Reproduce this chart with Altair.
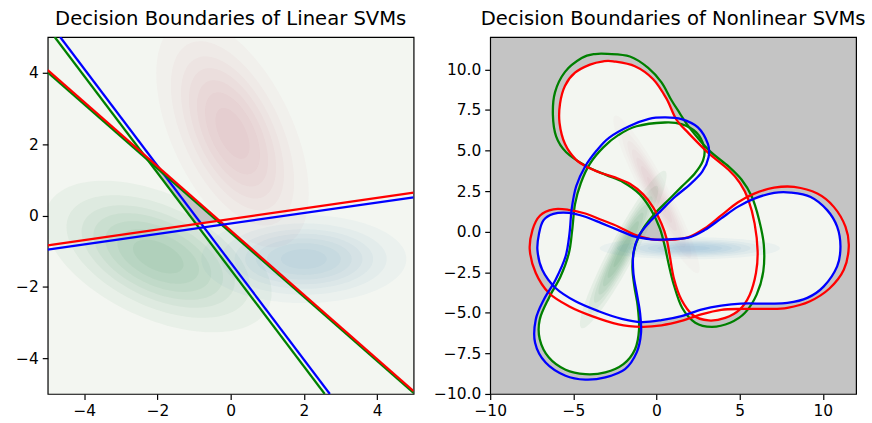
import numpy as np
import pandas as pd
import altair as alt

FONT = "DejaVu Sans"
BG_LIGHT = "#f3f6f1"
BG_GRAY = "#c4c4c4"
LINE_COLORS = {"red": "#ff0000", "green": "#008000", "blue": "#0000ff"}
DENS_COLORS = {"red": "#b0183e", "green": "#006d2c", "blue": "#2171b5"}

# ------------------------------------------------------------------ left panel
left_title = "Decision Boundaries of Linear SVMs"
left_dom = [-5, 5]
left_xticks = [-4, -2, 0, 2, 4]
left_yticks = [-4, -2, 0, 2, 4]

# decision lines (two end points each)
lin_names = ["bg_green", "bg_blue", "rg_green", "rg_red", "rb_blue", "rb_red"]
lin_cols = ["green", "blue", "green", "red", "blue", "red"]
lin_x1 = [-4.81, -4.66, -5.0, -5.0, -5.0, -5.0]
lin_y1 = [5.0, 5.0, 4.01, 4.07, -0.96, -0.84]
lin_x2 = [2.57, 2.71, 5.0, 5.0, 5.0, 5.0]
lin_y2 = [-5.0, -5.0, -4.97, -4.92, 0.51, 0.64]

# class densities (mean, std along major / minor axis, angle of major axis in deg)
classes = ["red", "green", "blue"]
left_mx = [0.05, -1.98, 2.0]
left_my = [2.3, -1.15, -1.22]
left_s1 = [1.67, 1.62, 1.36]
left_s2 = [0.80, 0.84, 0.60]
left_ang = [-65.0, -25.6, 0.0]
left_peak = [0.18, 0.26, 0.22]

# ----------------------------------------------------------------- right panel
right_title = "Decision Boundaries of Nonlinear SVMs"
right_dom = [-10, 12]
right_xticks = [-10, -5, 0, 5, 10]
right_yticks = [-10, -7.5, -5, -2.5, 0, 2.5, 5, 7.5, 10]

right_mx = [0.0, -2.0, 2.0]
right_my = [2.3, -1.1, -1.02]
right_s1 = [2.65, 2.65, 2.63]
right_s2 = [0.38, 0.38, 0.33]
right_ang = [-62.7, 62.6, 0.0]
right_peak = [0.14, 0.32, 0.26]

levels = [0.12, 0.25, 0.38, 0.5, 0.63, 0.76, 0.9]

# closed decision curves (x list, y list)
A_red_x = [-2.6, -1.3, -0.2, 0.6, 1.2, 1.94, 3.13, 4.33, 5.02, 5.52, 5.9, 6.08, 5.98, 5.6, 5.0, 4.13, 3.13, 2.2, 1.5, 1.05, 0.8, 0.6, 0.3, -0.2, -0.8, -1.6, -2.5, -3.3, -4.04, -4.83, -5.5, -5.83, -5.8, -5.5, -4.9, -4.0, -3.2]
A_red_y = [10.5, 10.2, 9.4, 8.2, 6.9, 6.06, 4.84, 3.82, 3.0, 1.98, 0.5, -1.2, -2.55, -3.9, -4.8, -5.31, -5.47, -5.15, -4.2, -2.9, -1.5, -0.4, 0.5, 1.5, 2.3, 2.95, 3.35, 3.6, 3.92, 4.43, 5.4, 6.7, 7.9, 9.0, 9.8, 10.3, 10.5]
A_green_x = [-2.95, -1.6, -0.5, 0.3, 0.9, 1.4, 1.94, 3.13, 4.33, 5.12, 5.72, 6.15, 6.45, 6.42, 6.02, 5.32, 4.43, 3.33, 2.33, 1.54, 1.04, 0.74, 0.5, 0.2, -0.3, -1.0, -2.0, -3.04, -4.24, -5.43, -6.03, -6.23, -6.1, -5.5, -4.5, -3.7]
A_green_y = [10.96, 10.8, 10.1, 9.2, 8.1, 7.3, 6.47, 5.04, 4.02, 3.2, 2.18, 0.8, -0.8, -2.45, -3.88, -5.0, -5.61, -5.86, -5.61, -4.69, -3.27, -2.04, -0.9, 0.2, 1.3, 2.3, 3.05, 3.5, 4.05, 4.9, 5.86, 7.2, 8.6, 9.85, 10.7, 10.95]
B_blue_x = [0.5, 1.5, 2.49, 3.09, 3.13, 2.75, 2.0, 1.1, 0.3, -0.49, -1.09, -1.39, -1.39, -1.19, -0.99, -0.93, -1.19, -1.89, -3.08, -4.28, -5.47, -6.67, -7.3, -7.26, -6.77, -6.07, -5.47, -5.23, -5.1, -4.83, -4.3, -3.6, -2.84, -1.65, -0.45]
B_blue_y = [7.04, 6.94, 6.43, 5.41, 4.59, 3.7, 2.9, 2.14, 1.33, 0.51, -0.31, -1.33, -2.55, -3.78, -5.0, -6.22, -7.44, -8.47, -8.98, -9.12, -8.88, -8.06, -6.84, -5.41, -4.18, -2.96, -1.53, -0.1, 1.4, 2.8, 4.0, 5.0, 5.8, 6.5, 6.95]
B_green_x = [0.5, 1.5, 2.39, 2.86, 2.8, 2.29, 1.5, 0.7, -0.1, -0.79, -1.29, -1.45, -1.33, -1.13, -1.05, -1.29, -1.99, -3.08, -4.28, -5.47, -6.47, -7.02, -7.02, -6.47, -5.77, -5.27, -5.07, -4.9, -4.55, -4.0, -3.2, -2.3, -1.2]
B_green_y = [6.73, 6.63, 6.12, 5.21, 4.39, 3.57, 2.76, 1.94, 1.12, 0.2, -0.92, -2.14, -3.37, -4.59, -6.02, -7.24, -8.16, -8.67, -8.78, -8.51, -7.76, -6.63, -5.41, -4.08, -2.76, -1.33, 0.1, 1.7, 3.0, 4.2, 5.2, 5.95, 6.5]
C_red_x = [-7.46, -7.0, -6.2, -5.3, -4.28, -3.28, -2.29, -1.29, -0.29, 0.7, 1.9, 2.89, 3.89, 4.88, 5.88, 7.07, 8.27, 9.67, 10.66, 11.36, 11.56, 11.26, 10.4, 9.2, 7.87, 6.68, 5.08, 3.89, 2.69, 1.5, 0.3, -0.89, -2.29, -3.88, -5.27, -6.47, -7.26, -7.62]
C_red_y = [0.1, 1.0, 1.38, 1.35, 1.12, 0.72, 0.31, -0.2, -0.47, -0.51, -0.35, 0.2, 1.0, 1.8, 2.35, 2.71, 2.76, 2.35, 1.53, 0.31, -0.92, -2.35, -3.5, -4.3, -4.69, -4.76, -4.76, -4.82, -5.1, -5.5, -5.77, -5.86, -5.71, -5.2, -4.59, -3.78, -2.55, -1.12]
C_blue_x = [-7.06, -6.8, -6.2, -5.27, -4.28, -3.28, -2.29, -1.29, -0.29, 0.7, 1.9, 2.89, 3.89, 4.88, 5.88, 7.07, 8.07, 9.27, 10.26, 10.86, 11.06, 10.86, 10.06, 9.07, 7.87, 6.68, 5.08, 3.89, 2.69, 1.5, 0.3, -0.89, -2.09, -3.48, -4.87, -6.07, -6.87, -7.16]
C_blue_y = [-0.1, 0.7, 1.1, 1.16, 0.92, 0.51, 0.1, -0.31, -0.47, -0.47, -0.37, 0.1, 0.82, 1.53, 2.04, 2.39, 2.41, 2.14, 1.33, 0.31, -0.92, -2.14, -3.37, -4.08, -4.39, -4.43, -4.43, -4.55, -4.8, -5.2, -5.45, -5.57, -5.37, -4.9, -4.29, -3.47, -2.35, -1.12]

curve_names = ["A_green", "B_green", "A_red", "C_red", "B_blue", "C_blue"]
curve_cols = ["green", "green", "red", "red", "blue", "blue"]
curve_data = {
    "A_green": (A_green_x, A_green_y), "B_green": (B_green_x, B_green_y),
    "A_red": (A_red_x, A_red_y), "C_red": (C_red_x, C_red_y),
    "B_blue": (B_blue_x, B_blue_y), "C_blue": (C_blue_x, C_blue_y),
}
inner_curves = ["A_red", "B_green", "C_blue"]   # light region = inside these

col_domain = ["green", "red", "blue"]
col_range = [LINE_COLORS[c] for c in col_domain]


# ------------------------------------------------------------------ helpers
def ellipse_table(mx, my, s1, s2, ang, dom):
    """Gaussian level sets (ellipses), kept inside the axes box."""
    rows = []
    t = np.linspace(0, 2 * np.pi, 120, endpoint=False)
    for c, m1, m2, a1, a2, an in zip(classes, mx, my, s1, s2, ang):
        th = np.deg2rad(an)
        for k, f in enumerate(levels):
            r = np.sqrt(-2 * np.log(f))
            u = a1 * r * np.cos(t)
            v = a2 * r * np.sin(t)
            xs = np.clip(m1 + u * np.cos(th) - v * np.sin(th), dom[0], dom[1])
            ys = np.clip(m2 + u * np.sin(th) + v * np.cos(th), dom[0], dom[1])
            for i, (xx, yy) in enumerate(zip(xs, ys)):
                rows.append({"cls": c, "lvl": k, "i": i, "x": xx, "y": yy})
    return pd.DataFrame(rows)


def line_through(n):
    return (lin_x1[n], lin_y1[n], lin_x2[n], lin_y2[n])


def intersect(p, q):
    x1, y1, x2, y2 = p
    x3, y3, x4, y4 = q
    d = (x1 - x2) * (y3 - y4) - (y1 - y2) * (x3 - x4)
    a = x1 * y2 - y1 * x2
    b = x3 * y4 - y3 * x4
    return ((a * (x3 - x4) - (x1 - x2) * b) / d, (a * (y3 - y4) - (y1 - y2) * b) / d)


def axis(vals, fmt, ext=None):
    kw = dict(values=vals, format=fmt, title=None, grid=False, domain=False,
              tickSize=5.5, tickWidth=1.2, tickColor="black", labelColor="black",
              labelFont=FONT, labelFontSize=15.5, labelPadding=4,
              labelFlush=False, labelOverlap=False)
    if ext is not None:
        kw["minExtent"] = ext
    return alt.Axis(**kw)


def density_layers(df, peaks, xenc, yenc):
    layers = []
    n = len(levels)
    for c, p in zip(classes, peaks):
        a = 1 - (1 - p) ** (1.0 / n)
        layers.append(
            alt.Chart(df[df.cls == c]).mark_line(
                fill=DENS_COLORS[c], fillOpacity=a, strokeOpacity=0, strokeWidth=0,
                interpolate="linear-closed", clip=True
            ).encode(x=xenc, y=yenc, detail="lvl:N", order="i:Q")
        )
    return layers


def color_enc():
    return alt.Color("col:N", scale=alt.Scale(domain=col_domain, range=col_range), legend=None)


title_kw = dict(fontSize=19.7, font=FONT, fontWeight="normal", color="black",
                anchor="middle", frame="group", offset=-8, baseline="alphabetic")

# ------------------------------------------------------------------ left chart
lx = alt.X("x:Q", scale=alt.Scale(domain=left_dom, nice=False, zero=False),
           axis=axis(left_xticks, "d"))
ly = alt.Y("y:Q", scale=alt.Scale(domain=left_dom, nice=False, zero=False),
           axis=axis(left_yticks, "d", 42))

left_ell = ellipse_table(left_mx, left_my, left_s1, left_s2, left_ang, left_dom)

# gap region bounded by the steep green, middle green and shallow red lines
P1 = intersect(line_through(0), line_through(2))
P2 = intersect(line_through(2), line_through(5))
P3 = intersect(line_through(0), line_through(5))
tri = pd.DataFrame({"i": [0, 1, 2], "x": [P1[0], P2[0], P3[0]], "y": [P1[1], P2[1], P3[1]]})

lin_rows = []
for n, name in enumerate(lin_names):
    lin_rows.append({"curve": name, "col": lin_cols[n], "i": 0, "x": lin_x1[n], "y": lin_y1[n]})
    lin_rows.append({"curve": name, "col": lin_cols[n], "i": 1, "x": lin_x2[n], "y": lin_y2[n]})
lin_df = pd.DataFrame(lin_rows)

left_layers = density_layers(left_ell, left_peak, lx, ly)
left_layers.append(
    alt.Chart(tri).mark_line(fill=BG_GRAY, strokeOpacity=0, strokeWidth=0,
                             interpolate="linear-closed", clip=True)
    .encode(x=lx, y=ly, order="i:Q")
)
left_layers.append(
    alt.Chart(lin_df).mark_line(strokeWidth=2.3, clip=True).encode(
        x=lx, y=ly, order="i:Q", detail="curve:N", color=color_enc())
)
left = alt.layer(*left_layers).properties(
    width=368, height=359,
    title=alt.TitleParams(left_title, **title_kw),
    view=alt.ViewBackground(fill=BG_LIGHT, stroke="black", strokeWidth=1.2),
)

# ----------------------------------------------------------------- right chart
rx = alt.X("x:Q", scale=alt.Scale(domain=right_dom, nice=False, zero=False),
           axis=axis(right_xticks, "d"))
ry = alt.Y("y:Q", scale=alt.Scale(domain=right_dom, nice=False, zero=False),
           axis=axis(right_yticks, ".1f", 62))

cur_rows = []
for name, col in zip(curve_names, curve_cols):
    xs, ys = curve_data[name]
    for i, (xx, yy) in enumerate(zip(xs, ys)):
        cur_rows.append({"curve": name, "col": col, "i": i, "x": xx, "y": yy})
cur_df = pd.DataFrame(cur_rows)

right_ell = ellipse_table(right_mx, right_my, right_s1, right_s2, right_ang, right_dom)

right_layers = [
    alt.Chart(cur_df[cur_df.curve.isin(inner_curves)]).mark_line(
        fill=BG_LIGHT, strokeOpacity=0, strokeWidth=0,
        interpolate="cardinal-closed", clip=True
    ).encode(x=rx, y=ry, detail="curve:N", order="i:Q")
]
right_layers += density_layers(right_ell, right_peak, rx, ry)
right_layers.append(
    alt.Chart(cur_df).mark_line(strokeWidth=2.3, interpolate="cardinal-closed", clip=True)
    .encode(x=rx, y=ry, order="i:Q", detail="curve:N", color=color_enc())
)
right = alt.layer(*right_layers).properties(
    width=368, height=359,
    title=alt.TitleParams(right_title, **title_kw),
    view=alt.ViewBackground(fill=BG_GRAY, stroke="black", strokeWidth=1.2),
)

chart = alt.hconcat(left, right, spacing=13).properties(
    padding={"left": 5, "top": 7, "right": 5, "bottom": 0},
    background="white",
).configure_view(stroke="black")

chart.save("out.html", embed_options={"renderer": "svg", "actions": False})
